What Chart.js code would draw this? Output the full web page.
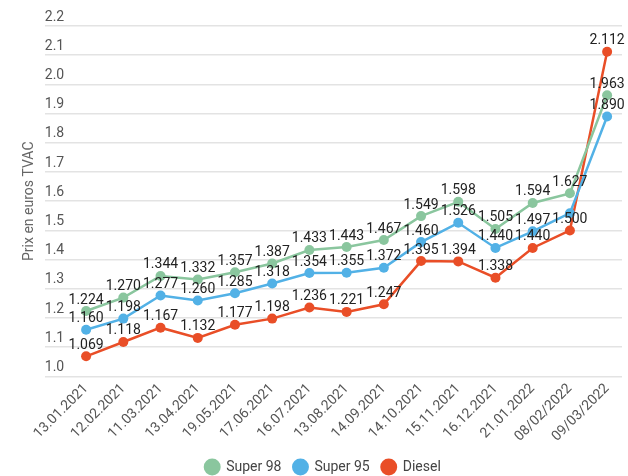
<!DOCTYPE html>
<html>
<head>
<meta charset="utf-8">
<script src="https://cdn.jsdelivr.net/npm/chart.js@4.4.1/dist/chart.umd.min.js"></script>
<style>
  html, body { margin: 0; padding: 0; background: #fff; }
  #wrap { width: 628px; height: 476px; }
</style>
</head>
<body>
<div id="wrap"><canvas id="fuelChart"></canvas></div>
<script>
const dates = ['13.01.2021', '12.02.2021', '11.03.2021', '13.04.2021', '19.05.2021', '17.06.2021', '16.07.2021',
  '13.08.2021', '14.09.2021', '14.10.2021', '15.11.2021', '16.12.2021', '21.01.2022', '08/02/2022', '09/03/2022'];
const super98 = [1.224, 1.270, 1.344, 1.332, 1.357, 1.387, 1.433, 1.443, 1.467, 1.549, 1.598, 1.505, 1.594, 1.627, 1.963];
const super95 = [1.160, 1.198, 1.277, 1.260, 1.285, 1.318, 1.354, 1.355, 1.372, 1.460, 1.526, 1.440, 1.497, 1.559, 1.890];
const diesel = [1.069, 1.118, 1.167, 1.132, 1.177, 1.198, 1.236, 1.221, 1.247, 1.395, 1.394, 1.338, 1.440, 1.500, 2.112];
// the label of this point is not shown in the original (it sits between two others)
const super95Unlabelled = [13];

const ctx = document.getElementById('fuelChart').getContext('2d');

function series(label, values, color, unlabelled) {
  return {
    label: label,
    data: values.map((v, i) => ({ x: i, y: v })),
    borderColor: color,
    backgroundColor: color,
    pointBackgroundColor: color,
    pointBorderWidth: 0,
    pointRadius: 5,
    pointHoverRadius: 6,
    borderWidth: 2.5,
    tension: 0,
    unlabelled: unlabelled || []
  };
}

const valueLabels = {
  id: 'valueLabels',
  afterDatasetsDraw(chart) {
    const c = chart.ctx;
    c.save();
    c.font = '14px Roboto';
    c.fillStyle = '#222';
    c.textAlign = 'center';
    c.textBaseline = 'middle';
    chart.data.datasets.forEach((ds, di) => {
      const meta = chart.getDatasetMeta(di);
      meta.data.forEach((pt, i) => {
        if (ds.unlabelled.includes(i)) return;
        c.fillText(ds.data[i].y.toFixed(3), pt.x, pt.y - 11);
      });
    });
    c.restore();
  }
};

const config = {
  type: 'line',
  data: {
    datasets: [
      series('Super 98', super98, '#8ac69e'),
      series('Super 95', super95, '#52b1e6', super95Unlabelled),
      series('Diesel', diesel, '#e94e27')
    ]
  },
  options: {
    responsive: true,
    maintainAspectRatio: false,
    animation: false,
    layout: { padding: { left: 18, right: 0, top: 26, bottom: -8 } },
    scales: {
      x: {
        type: 'linear',
        min: -1.11,
        max: 14.40,
        afterBuildTicks: scale => { scale.ticks = dates.map((_, i) => ({ value: i })); },
        afterFit: scale => { scale.height += 7; },
        grid: { display: false },
        border: { display: false },
        ticks: {
          minRotation: 45,
          maxRotation: 45,
          autoSkip: false,
          padding: -4,
          color: '#555',
          font: { family: 'Roboto', size: 14 },
          callback: v => dates[v]
        }
      },
      y: {
        min: 1.0,
        max: 2.2,
        grid: { color: '#e3e3e3', lineWidth: 1.5, drawTicks: false },
        border: { display: false },
        ticks: {
          stepSize: 0.1,
          mirror: true,
          padding: 0,
          labelOffset: -9,
          color: '#555',
          font: { family: 'Roboto', size: 14 },
          callback: v => v.toFixed(1)
        },
        title: {
          display: true,
          text: 'Prix en euros TVAC',
          color: '#666',
          font: { family: 'Roboto', size: 14 },
          padding: { top: 3, bottom: 7 }
        }
      }
    },
    plugins: {
      legend: {
        position: 'bottom',
        labels: {
          usePointStyle: true,
          pointStyle: 'circle',
          boxWidth: 14,
          boxHeight: 12,
          padding: 12,
          color: '#444',
          font: { family: 'Roboto', size: 14 }
        }
      },
      tooltip: { enabled: true }
    }
  },
  plugins: [valueLabels]
};

const fuelChart = new Chart(ctx, config);
</script>
</body>
</html>
